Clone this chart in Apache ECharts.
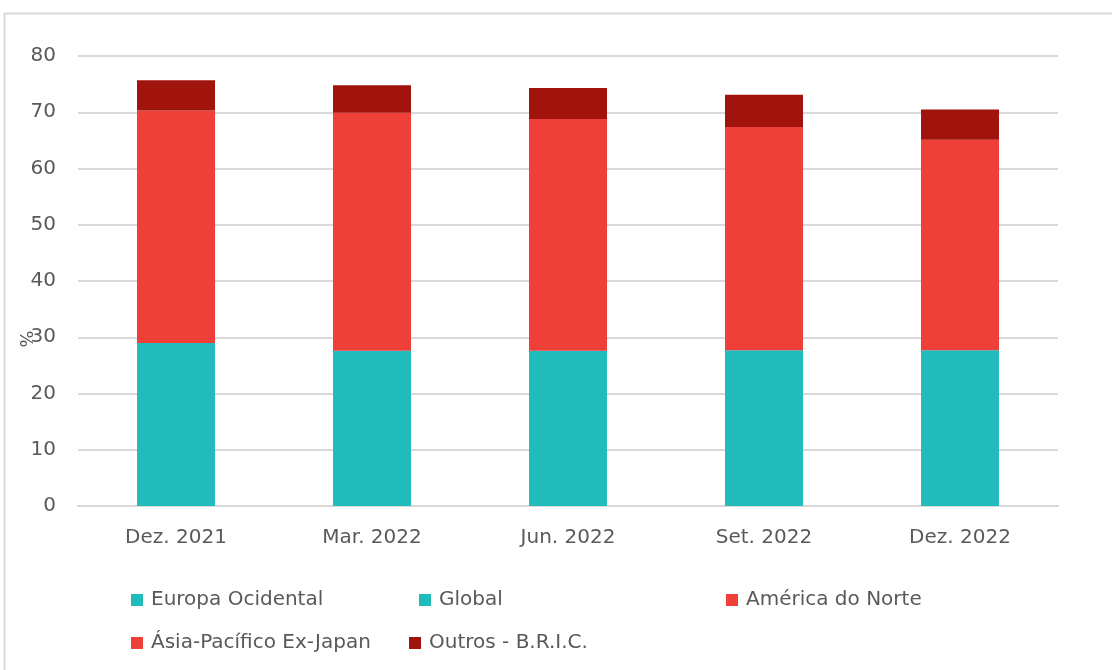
<!DOCTYPE html>
<html>
<head>
<meta charset="utf-8">
<script src="https://cdn.jsdelivr.net/npm/echarts@6/dist/echarts.min.js"></script>
<style>
  html, body { margin: 0; padding: 0; background: #fff; }
  #chart { width: 1112px; height: 670px; }
</style>
</head>
<body>
<div id="chart"></div>
<script>
var categories = ['Dez. 2021', 'Mar. 2022', 'Jun. 2022', 'Set. 2022', 'Dez. 2022'];
var europaOcidental = [29.0, 27.6, 27.6, 27.7, 27.7];
var global = [0, 0, 0, 0, 0];
var americaNorte = [41.3, 42.3, 41.2, 39.7, 37.4];
var asiaPacifico = [0, 0, 0, 0, 0];
var outrosBric = [5.4, 4.9, 5.5, 5.7, 5.4];
var yTicks = [0, 10, 20, 30, 40, 50, 60, 70, 80];

var teal = '#21bbbb', red = '#ee3f38', darkRed = '#a1140e';
var font = 'DejaVu Sans';
var txt = '#595959';

var chart = echarts.init(document.getElementById('chart'));

function bar(name, data, color) {
  return {
    name: name, type: 'bar', stack: 'total', data: data,
    barWidth: 78,
    itemStyle: { color: color },
    emphasis: { disabled: true }
  };
}

function legendAt(name, left, top) {
  return {
    data: [name], left: left, top: top,
    itemWidth: 12, itemHeight: 12, itemGap: 0,
    icon: 'rect',
    textStyle: { fontFamily: font, fontSize: 20, color: txt, padding: [0, 0, 0, 3] }
  };
}

chart.setOption({
  animation: false,
  textStyle: { fontFamily: font },
  grid: { left: 78, right: 54, top: 56, bottom: 164 },
  graphic: [
    { type: 'rect', shape: { x: 4.5, y: 13.5, width: 1200, height: 700 },
      style: { fill: 'none', stroke: '#d9d9d9', lineWidth: 2 }, silent: true },
    { type: 'text', x: 25, y: 339, rotation: -Math.PI / 2,
      style: { text: '%', fill: txt, fontSize: 18, fontFamily: font, align: 'center', verticalAlign: 'middle' } }
  ],
  legend: [
    legendAt('Europa Ocidental', 126, 585),
    legendAt('Global', 414, 585),
    legendAt('América do Norte', 721, 585),
    legendAt('Ásia-Pacífico Ex-Japan', 126, 628),
    legendAt('Outros - B.R.I.C.', 404, 628)
  ],
  xAxis: {
    type: 'category', data: categories,
    axisLine: { show: true, lineStyle: { color: '#d9d9d9', width: 2 } },
    axisTick: { show: false },
    axisLabel: { fontSize: 20, color: txt, fontFamily: font, margin: 22 }
  },
  yAxis: {
    type: 'value', min: yTicks[0], max: yTicks[yTicks.length - 1], interval: 10,
    axisLine: { show: false }, axisTick: { show: false },
    axisLabel: { fontSize: 20, color: txt, fontFamily: font, margin: 22 },
    splitLine: { lineStyle: { color: '#d9d9d9', width: 2 } }
  },
  series: [
    bar('Europa Ocidental', europaOcidental, teal),
    bar('Global', global, teal),
    bar('América do Norte', americaNorte, red),
    bar('Ásia-Pacífico Ex-Japan', asiaPacifico, red),
    bar('Outros - B.R.I.C.', outrosBric, darkRed)
  ]
});
</script>
</body>
</html>
